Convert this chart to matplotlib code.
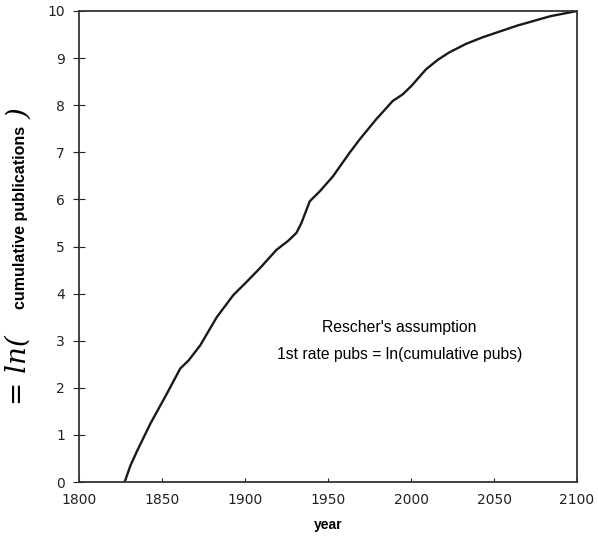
import matplotlib
matplotlib.use('Agg')
import matplotlib.pyplot as plt

# valores
years = [1827.5, 1831, 1835, 1843, 1853, 1861, 1866, 1873, 1883, 1893, 1901,
         1909, 1919, 1926, 1931, 1934, 1939, 1945, 1953, 1963, 1969, 1979,
         1989, 1995, 2000, 2009, 2016, 2023, 2033, 2043, 2064, 2084, 2100]
values = [0, 0.35, 0.66, 1.24, 1.88, 2.41, 2.58, 2.90, 3.50, 3.97, 4.25,
          4.54, 4.93, 5.12, 5.29, 5.50, 5.96, 6.17, 6.49, 6.99, 7.27, 7.70,
          8.09, 8.23, 8.40, 8.76, 8.96, 9.12, 9.30, 9.44, 9.69, 9.89, 10.0]
xticks = [1800, 1850, 1900, 1950, 2000, 2050, 2100]
yticks = list(range(0, 11))

plt.rcParams['font.family'] = ['Liberation Sans', 'DejaVu Sans']

fig = plt.figure(figsize=(5.98, 5.45), dpi=100)
ax = fig.add_axes([79 / 598, 63 / 545, 498 / 598, 471 / 545])

ax.plot(years, values, color='#1a1a1a', linewidth=1.7)

ax.set_xlim(1800, 2100)
ax.set_ylim(0, 10)
ax.set_xticks(xticks)
ax.set_yticks(yticks)
ax.tick_params(axis='x', direction='in', length=3, pad=8, labelsize=10,
               labelfontfamily='DejaVu Sans', colors='#222222')
ax.tick_params(axis='y', direction='inout', length=8, width=0.8, pad=6,
               labelsize=10, labelfontfamily='DejaVu Sans', colors='#222222')

for s in ['top', 'bottom']:
    ax.spines[s].set_linewidth(1.3)
    ax.spines[s].set_color('#333333')
for s in ['left', 'right']:
    ax.spines[s].set_linestyle((0, (1, 1)))
    ax.spines[s].set_linewidth(1.3)
    ax.spines[s].set_color('#333333')

ax.set_xlabel('year', fontweight='bold', fontsize=10, labelpad=8)

# etiqueta del eje y (parte escrita a mano en el original)
fig.text(21 / 598, 1 - 217 / 545, 'cumulative publications', rotation=90,
         ha='center', va='center', fontsize=11.5, fontweight='bold')
fig.text(18 / 598, 1 - 370 / 545, '= ln(', rotation=90, ha='center',
         va='center', fontsize=20, family='DejaVu Serif', style='italic')
fig.text(20 / 598, 1 - 114 / 545, ')', rotation=90, ha='center',
         va='center', fontsize=20, family='DejaVu Serif', style='italic')

ax.text(1993, 3.27, "Rescher's assumption", ha='center', va='center',
        fontsize=11.3)
ax.text(1993, 2.7, '1st rate pubs = ln(cumulative pubs)', ha='center',
        va='center', fontsize=11.3)

fig.savefig('out.png', dpi=100)
